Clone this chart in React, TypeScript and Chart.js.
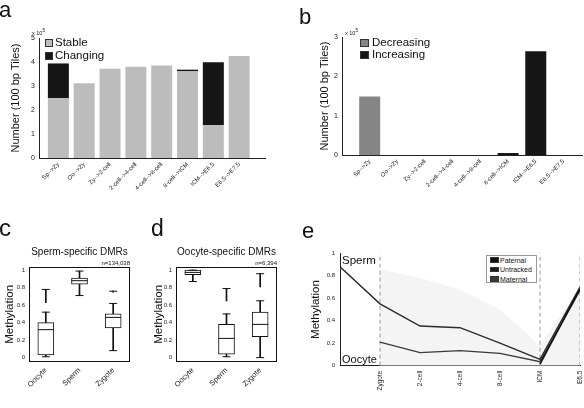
import React, { useEffect, useRef } from 'react';
import { Chart, registerables } from 'chart.js';

Chart.register(...registerables);
Chart.defaults.font.family = "'Liberation Sans', Arial, Helvetica, sans-serif";
Chart.defaults.color = '#111';

// ---------- panel a / b ----------
const transitions = ['Sp-->Zy', 'Oo-->Zy', 'Zy-->2-cell', '2-cell-->4-cell', '4-cell-->8-cell', '8-cell-->ICM', 'ICM-->E6.5', 'E6.5-->E7.5'];
const stable = [2.49, 3.11, 3.72, 3.80, 3.85, 3.61, 1.36, 4.25];
const changing = [1.45, 0, 0, 0, 0, 0.07, 2.63, 0];
const decreasing = [1.49, 0, 0, 0, 0, 0, 0, 0];
const increasing = [0, 0, 0, 0, 0, 0.05, 2.64, 0];
const aTicks = [0, 1, 2, 3, 4, 5];
const bTicks = [0, 1, 2, 3];

// ---------- panel c / d (box plots) ----------
const boxCats = ['Oocyte', 'Sperm', 'Zygote'];
const spMin = [0.01, 0.71, 0.08];
const spQ1 = [0.03, 0.84, 0.34];
const spMed = [0.32, 0.88, 0.46];
const spQ3 = [0.40, 0.91, 0.50];
const spMax = [0.52, 0.99, 0.62];
const spOutLo = [0.63, null, 0.75];
const spOutHi = [0.78, null, 0.76];

const ooMin = [0.87, 0.01, 0.0];
const ooQ1 = [0.95, 0.04, 0.24];
const ooMed = [0.975, 0.22, 0.38];
const ooQ3 = [1.0, 0.38, 0.52];
const ooMax = [1.0, 0.50, 0.65];
const ooOutLo = [null, 0.65, 0.81];
const ooOutHi = [null, 0.79, 0.96];
const methTicks = [0, 0.2, 0.4, 0.6, 0.8, 1];

// ---------- panel e ----------
const stages = ['', 'Zygote', '2-cell', '4-cell', '8-cell', 'ICM', 'E6.5'];
const paternal = [0.88, 0.55, 0.353, 0.338, 0.2, 0.057, 0.70];
const maternal = [null, 0.21, 0.116, 0.134, 0.11, 0.036, 0.67];
const untracked = [null, null, null, null, null, 0.015, 0.685];
const bandUpper = [null, 0.86, 0.78, 0.68, 0.5, 0.18, 0.7];
const dashedStages = ['Zygote', 'ICM', 'E6.5'];

const setTicks = (vals: number[]) => (s: any) => {
  s.ticks = vals.map((v) => ({ value: v }));
};
const fixH = (h: number) => (s: any) => {
  s.height = h;
  s.paddingLeft = 0;
  s.paddingRight = 0;
};
const fixW = (w: number) => (s: any) => {
  s.width = w;
  s.paddingTop = 0;
  s.paddingBottom = 0;
};

const framePlugin = {
  id: 'frame',
  afterDraw(chart: any) {
    const { ctx, chartArea: a } = chart;
    ctx.save();
    ctx.strokeStyle = '#111';
    ctx.lineWidth = 1;
    ctx.strokeRect(Math.round(a.left) + 0.5, Math.round(a.top) + 0.5, Math.round(a.right - a.left) - 1, Math.round(a.bottom - a.top) - 1);
    ctx.restore();
  },
};

function barConfig(opts: any) {
  const { series, yMax, yTicks, xMin, xMax, yWidth, xHeight, padTop, padRight, titlePad } = opts;
  return {
    type: 'bar',
    data: {
      datasets: series.map((s: any) => ({
        label: s.label,
        data: s.data.map((v: number, i: number) => ({ x: i + 1, y: v === 0 ? null : v })),
        backgroundColor: s.color,
        borderWidth: 0,
        inflateAmount: 0,
        barThickness: 21,
        stack: 'one',
      })),
    },
    options: {
      animation: false,
      responsive: false,
      layout: { padding: { top: padTop, right: padRight, left: 0, bottom: 0 } },
      plugins: { legend: { display: false }, tooltip: { enabled: false } },
      scales: {
        x: {
          type: 'linear',
          min: xMin,
          max: xMax,
          stacked: true,
          offset: false,
          grid: { display: false, drawTicks: false },
          border: { display: true, color: '#222', width: 1 },
          afterBuildTicks: setTicks(transitions.map((_, i) => i + 1)),
          afterFit: fixH(xHeight),
          ticks: {
            autoSkip: false,
            maxRotation: 45,
            minRotation: 45,
            padding: 3,
            font: { size: 6 },
            color: '#222',
            callback: (v: number) => transitions[Math.round(v) - 1],
          },
        },
        y: {
          min: 0,
          max: yMax,
          stacked: true,
          grid: { display: false, drawTicks: false },
          border: { display: true, color: '#222', width: 1 },
          afterBuildTicks: setTicks(yTicks),
          afterFit: fixW(yWidth),
          ticks: { padding: 4, font: { size: 7 }, color: '#222', callback: (v: number) => String(v) },
          title: { display: true, text: 'Number (100 bp Tiles)', font: { size: 11 }, color: '#111', padding: { top: titlePad, bottom: 0 } },
        },
      },
    },
  };
}

function boxConfig(d: any) {
  const { min, q1, med, q3, max, outLo, outHi, yWidth, titlePad } = d;
  const bw = 16;
  return {
    type: 'bar',
    data: {
      labels: boxCats,
      datasets: [
        { type: 'line', data: med, showLine: false, pointStyle: 'line', pointRadius: 8, pointBorderWidth: 1, borderColor: '#111', order: 0 },
        { type: 'line', data: min, showLine: false, pointStyle: 'line', pointRadius: 4, pointBorderWidth: 1, borderColor: '#111', order: 0 },
        { type: 'line', data: max, showLine: false, pointStyle: 'line', pointRadius: 4, pointBorderWidth: 1, borderColor: '#111', order: 0 },
        { type: 'line', data: outHi, showLine: false, pointStyle: 'line', pointRadius: 4, pointBorderWidth: 1, borderColor: '#111', order: 0 },
        { data: q1.map((v: number, i: number) => [v, q3[i]]), backgroundColor: '#fff', borderColor: '#111', borderWidth: 1, borderSkipped: false, barThickness: bw, grouped: false, order: 1 },
        { data: min.map((v: number, i: number) => [v, q1[i]]), backgroundColor: '#111', borderWidth: 0, barThickness: 1, grouped: false, order: 2 },
        { data: q3.map((v: number, i: number) => [v, max[i]]), backgroundColor: '#111', borderWidth: 0, barThickness: 1, grouped: false, order: 2 },
        { data: outLo.map((v: any, i: number) => (v == null ? null : [v, outHi[i]])), backgroundColor: '#111', borderWidth: 0, barThickness: 1, grouped: false, order: 2 },
      ],
    },
    options: {
      animation: false,
      responsive: false,
      layout: { padding: { top: 26.7, right: 20, left: 0, bottom: 0 } },
      plugins: { legend: { display: false }, tooltip: { enabled: false } },
      scales: {
        x: {
          grid: { display: false, drawTicks: false },
          border: { display: false },
          afterFit: fixH(46),
          ticks: { maxRotation: 45, minRotation: 45, padding: 4, font: { size: 7.5 }, color: '#222' },
        },
        y: {
          min: -0.05,
          max: 1.04,
          grid: { display: false, drawTicks: false },
          border: { display: false },
          afterBuildTicks: setTicks(methTicks),
          afterFit: fixW(yWidth),
          ticks: { padding: 4, font: { size: 6 }, color: '#222', callback: (v: number) => String(v) },
          title: { display: true, text: 'Methylation', font: { size: 11.5 }, color: '#111', padding: { top: titlePad, bottom: 0 } },
        },
      },
    },
    plugins: [framePlugin],
  };
}

function lineConfig() {
  const pts = (arr: any[]) => arr.map((v, i) => ({ x: i, y: v }));
  const dashed = dashedStages.map((s) => {
    const xi = stages.indexOf(s);
    return {
      data: [{ x: xi, y: 0 }, { x: xi, y: 1 }],
      borderColor: '#9a9a9a',
      borderWidth: 1,
      borderDash: [4, 3],
      pointRadius: 0,
      order: 5,
    };
  });
  return {
    type: 'line',
    data: {
      datasets: [
        { label: 'Paternal', data: pts(paternal), borderColor: '#2b2b2b', borderWidth: 1.4, pointRadius: 0, tension: 0, order: 1 },
        { label: 'Untracked', data: pts(untracked), borderColor: '#111', borderWidth: 1.6, pointRadius: 0, tension: 0, order: 0 },
        { label: 'Maternal', data: pts(maternal), borderColor: '#3a3a3a', borderWidth: 1.4, pointRadius: 0, tension: 0, order: 1 },
        ...dashed,
        { label: 'band', data: pts(bandUpper), borderWidth: 0, pointRadius: 0, fill: 'origin', backgroundColor: '#f4f4f4', order: 10 },
      ],
    },
    options: {
      animation: false,
      responsive: false,
      layout: { padding: { top: 13.3, right: 4, left: 0, bottom: 0 } },
      plugins: { legend: { display: false }, tooltip: { enabled: false } },
      scales: {
        x: {
          type: 'linear',
          min: 0,
          max: 6,
          grid: { display: false, drawTicks: false },
          border: { display: true, color: '#222', width: 1 },
          afterBuildTicks: setTicks([1, 2, 3, 4, 5, 6]),
          afterFit: fixH(42.3),
          ticks: { autoSkip: false, maxRotation: 90, minRotation: 90, padding: 5, font: { size: 6.5 }, color: '#222', callback: (v: number) => stages[Math.round(v)] },
        },
        y: {
          min: 0,
          max: 1,
          grid: { display: false, drawTicks: false },
          border: { display: true, color: '#222', width: 1 },
          afterBuildTicks: setTicks(methTicks),
          afterFit: fixW(40),
          ticks: { padding: 5, font: { size: 6 }, color: '#222', callback: (v: number) => String(v) },
          title: { display: true, text: 'Methylation', font: { size: 11.5 }, color: '#111', padding: { top: 9.4, bottom: 0 } },
        },
      },
    },
  };
}

function ChartCanvas({ left, top, width, height, make }: any) {
  const ref = useRef<HTMLCanvasElement>(null);
  useEffect(() => {
    const chart = new Chart(ref.current as HTMLCanvasElement, make());
    return () => chart.destroy();
  }, []);
  return <canvas ref={ref} width={width} height={height} style={{ position: 'absolute', left, top, width, height, display: 'block' }} />;
}

function Txt({ x, y, size, children, style }: any) {
  return (
    <div style={{ position: 'absolute', left: x, top: y, fontSize: size, lineHeight: 1, whiteSpace: 'nowrap', color: '#111', fontFamily: "'Liberation Sans', Arial, sans-serif", ...style }}>
      {children}
    </div>
  );
}

function Sq({ x, y, w, h, color }: any) {
  return <div style={{ position: 'absolute', left: x, top: y, width: w, height: h, background: color, boxSizing: 'border-box', border: '0.5px solid #333' }} />;
}

export default function App() {
  return (
    <div style={{ position: 'absolute', left: 0, top: 0, width: 584, height: 408, overflow: 'hidden', background: '#fff' }}>
      <ChartCanvas left={0} top={0} width={290} height={200} make={() => barConfig({
        series: [
          { label: 'Stable', data: stable, color: '#bcbcbc' },
          { label: 'Changing', data: changing, color: '#161616' },
        ],
        yMax: 5, yTicks: aTicks, xMin: 0.25, xMax: 9, yWidth: 39, xHeight: 42, padTop: 38, padRight: 25, titlePad: 9,
      })} />
      <ChartCanvas left={290} top={0} width={294} height={200} make={() => barConfig({
        series: [
          { label: 'Decreasing', data: decreasing, color: '#858585' },
          { label: 'Increasing', data: increasing, color: '#161616' },
        ],
        yMax: 3, yTicks: bTicks, xMin: 0, xMax: 8.67, yWidth: 52, xHeight: 45, padTop: 37, padRight: 2, titlePad: 28,
      })} />
      <ChartCanvas left={0} top={240} width={150} height={168} make={() => boxConfig({
        min: spMin, q1: spQ1, med: spMed, q3: spQ3, max: spMax, outLo: spOutLo, outHi: spOutHi, yWidth: 29, titlePad: 2.6,
      })} />
      <ChartCanvas left={147} top={240} width={150} height={168} make={() => boxConfig({
        min: ooMin, q1: ooQ1, med: ooMed, q3: ooQ3, max: ooMax, outLo: ooOutLo, outHi: ooOutHi, yWidth: 29, titlePad: 5,
      })} />
      <ChartCanvas left={300} top={240} width={284} height={168} make={lineConfig} />

      {/* panel letters */}
      <Txt x={-1} y={-1} size={22}>a</Txt>
      <Txt x={299} y={6} size={22}>b</Txt>
      <Txt x={-1} y={216} size={24}>c</Txt>
      <Txt x={151} y={217} size={23}>d</Txt>
      <Txt x={302} y={219.5} size={22}>e</Txt>

      {/* panel a extras */}
      <Txt x={32} y={29} size={5.5}>x 10<sup style={{ fontSize: 4.5 }}>5</sup></Txt>
      <Sq x={45} y={38.5} w={8} h={8} color="#bcbcbc" />
      <Txt x={55} y={36.7} size={11.5}>Stable</Txt>
      <Sq x={45} y={51.5} w={8} h={8} color="#161616" />
      <Txt x={55} y={49.7} size={11.5}>Changing</Txt>

      {/* panel b extras */}
      <Txt x={345} y={29} size={5.5}>x 10<sup style={{ fontSize: 4.5 }}>5</sup></Txt>
      <Sq x={360} y={38.5} w={9} h={8} color="#858585" />
      <Txt x={372} y={36.7} size={11.5}>Decreasing</Txt>
      <Sq x={360} y={50.5} w={9} h={8} color="#161616" />
      <Txt x={372} y={48.7} size={11.5}>Increasing</Txt>

      {/* panel c / d titles */}
      <Txt x={29} y={246.5} size={10} style={{ width: 101, textAlign: 'center' }}>Sperm-specific DMRs</Txt>
      <Txt x={80} y={260} size={6} style={{ width: 50, textAlign: 'right' }}>n=134,038</Txt>
      <Txt x={176} y={246.5} size={10} style={{ width: 101, textAlign: 'center' }}>Oocyte-specific DMRs</Txt>
      <Txt x={227} y={260} size={6} style={{ width: 50, textAlign: 'right' }}>n=6,394</Txt>

      {/* panel e extras */}
      <Txt x={342} y={255.3} size={11.5}>Sperm</Txt>
      <Txt x={342} y={353.6} size={11}>Oocyte</Txt>
      <div style={{ position: 'absolute', left: 486, top: 255, width: 51, height: 28, border: '1px solid #999', background: '#fff', boxSizing: 'border-box' }} />
      <Sq x={490} y={257.3} w={8.5} h={5.5} color="#111" />
      <Txt x={500} y={256.5} size={7} style={{ color: '#111' }}>Paternal</Txt>
      <Sq x={490} y={266.8} w={8.5} h={5.5} color="#1c1c1c" />
      <Txt x={500} y={266} size={7} style={{ color: '#111' }}>Untracked</Txt>
      <Sq x={490} y={276.3} w={8.5} h={5.5} color="#3a3a3a" />
      <Txt x={500} y={275.5} size={7} style={{ color: '#111' }}>Maternal</Txt>
    </div>
  );
}
